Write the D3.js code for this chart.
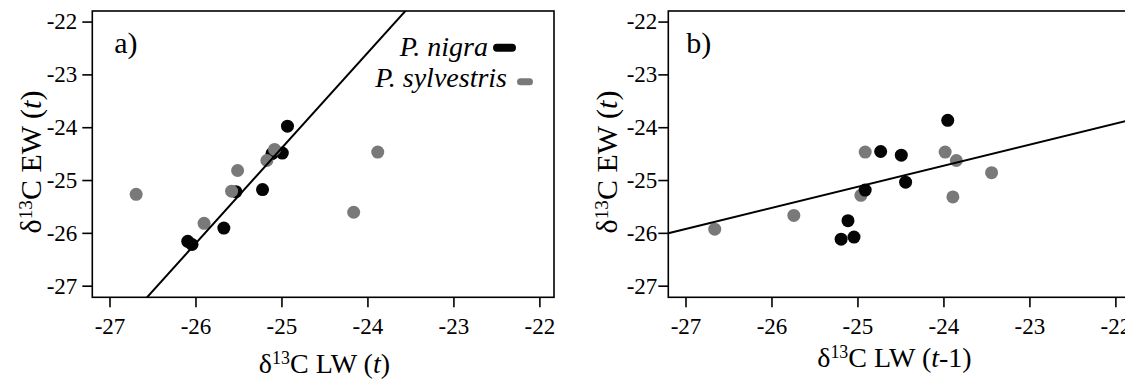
<!DOCTYPE html>
<html>
<head>
<meta charset="utf-8">
<script src="https://cdn.jsdelivr.net/npm/d3@7"></script>
<style>
  body { margin: 0; background: #fff; }
  svg text { font-family: "Liberation Serif", Tinos, "Times New Roman", "DejaVu Serif", serif; }
</style>
</head>
<body>
<svg id="chart" width="1125" height="380"></svg>
<script>
// δ13C pairs [LW, EW] for each species
// panel a: LW of the same year
const nigraA = [[-24.93, -23.98], [-24.99, -24.49], [-25.11, -24.50], [-25.53, -25.22],
                [-25.22, -25.18], [-25.67, -25.91], [-26.09, -26.16], [-26.04, -26.22]]
const sylvA = [[-25.08, -24.42], [-25.17, -24.63], [-25.51, -24.82], [-25.58, -25.21],
               [-26.69, -25.27], [-25.90, -25.82], [-23.88, -24.47], [-24.16, -25.61]]
// panel b: LW of the previous year
const nigraB = [[-23.95, -23.87], [-24.73, -24.46], [-24.49, -24.53], [-24.44, -25.04],
                [-24.91, -25.19], [-25.11, -25.77], [-25.19, -26.12], [-25.04, -26.08]]
const sylvB = [[-24.91, -24.47], [-23.98, -24.47], [-23.85, -24.63], [-23.44, -24.86],
               [-24.96, -25.29], [-23.89, -25.32], [-25.74, -25.67], [-26.66, -25.93]]

// fitted lines, [slope, intercept]
const fitA = [1.804, 20.70]
const fitB = [0.3996, -15.14]

const xTicks = [-27, -26, -25, -24, -23, -22]
const yTicks = [-27, -26, -25, -24, -23, -22]
const species = ["P. nigra", "P. sylvestris"]
const colors = ["#050505", "#797979"]

const svg = d3.select("#chart")
const plotTop = 11, plotBottom = 297.3
const xDomain = [-27.2, -21.83]
const yDomain = [-27.22, -21.80]

const panels = [
  {id: "a", label: "a)", left: 92.3, right: 554, series: [nigraA, sylvA], fit: fitA,
   lag: false, pad: 5, legend: true, sylvOnTop: true, titleDx: 0, titleY: 373},
  {id: "b", label: "b)", left: 668.3, right: 1130, series: [nigraB, sylvB], fit: fitB,
   lag: true, pad: 1, legend: false, sylvOnTop: false, titleDx: -6, titleY: 367}
]

const fmt = d => String(d)

// title with δ, superscript 13 and an italic t
function axisTitle(sel, word, lag, size) {
  sel.attr("font-size", size)
  sel.append("tspan").text("δ")
  sel.append("tspan").attr("font-size", size * 0.64).attr("dy", -size * 0.31).text("13")
  sel.append("tspan").attr("dy", size * 0.31).text("C " + word + " (")
  sel.append("tspan").attr("font-style", "italic").text("t")
  sel.append("tspan").text(lag ? "-1)" : ")")
}

panels.forEach(p => {
  const x = d3.scaleLinear().domain(xDomain).range([p.left, p.right])
  const y = d3.scaleLinear().domain(yDomain).range([plotBottom, plotTop])
  const g = svg.append("g")

  g.append("clipPath").attr("id", "clip-" + p.id)
    .append("rect")
    .attr("x", p.left).attr("y", plotTop)
    .attr("width", p.right - p.left).attr("height", plotBottom - plotTop)

  // points
  const order = p.sylvOnTop ? [0, 1] : [1, 0]
  order.forEach(i => {
    g.append("g")
      .selectAll("circle")
      .data(p.series[i])
      .join("circle")
      .attr("cx", d => x(d[0]))
      .attr("cy", d => y(d[1]))
      .attr("r", 6.5)
      .attr("fill", colors[i])
  })

  // regression line
  g.append("line")
    .attr("clip-path", "url(#clip-" + p.id + ")")
    .attr("x1", x(xDomain[0])).attr("y1", y(p.fit[0] * xDomain[0] + p.fit[1]))
    .attr("x2", x(xDomain[1])).attr("y2", y(p.fit[0] * xDomain[1] + p.fit[1]))
    .attr("stroke", "#000").attr("stroke-width", 2)

  // frame
  g.append("rect")
    .attr("x", p.left).attr("y", plotTop)
    .attr("width", p.right - p.left).attr("height", plotBottom - plotTop)
    .attr("fill", "none").attr("stroke", "#000").attr("stroke-width", 1.6)

  const yAxis = g.append("g")
    .attr("transform", "translate(" + p.left + ",0)")
    .call(d3.axisLeft(y).tickValues(yTicks).tickFormat(fmt)
      .tickSize(10).tickSizeOuter(0).tickPadding(p.pad))
  const xAxis = g.append("g")
    .attr("transform", "translate(0," + plotBottom + ")")
    .call(d3.axisBottom(x).tickValues(xTicks).tickFormat(fmt)
      .tickSize(10).tickSizeOuter(0).tickPadding(10))

  ;[yAxis, xAxis].forEach(a => {
    a.select(".domain").remove()
    a.attr("font-family", null).attr("font-size", 23)
    a.selectAll("line").attr("stroke", "#000").attr("stroke-width", 1.6)
    a.selectAll("text").attr("fill", "#000")
  })

  g.append("text")
    .attr("x", x(-24.5) + p.titleDx).attr("y", p.titleY)
    .attr("text-anchor", "middle")
    .call(axisTitle, "LW", p.lag, 28)

  g.append("text")
    .attr("transform", "translate(" + (p.left - 51) + "," + 162 + ") rotate(-90)")
    .attr("text-anchor", "middle")
    .call(axisTitle, "EW", false, 30)

  g.append("text")
    .attr("x", p.left + (p.id === "a" ? 22 : 18)).attr("y", 53)
    .attr("font-size", 30)
    .text(p.label)

  if (p.legend) {
    const rows = [{end: 488, base: 56, cy: 47.7, x1: 497, x2: 512, w: 8},
                  {end: 507, base: 87, cy: 81.7, x1: 520.5, x2: 529.5, w: 7}]
    const lg = g.append("g").selectAll("g").data(species).join("g")
    lg.append("text")
      .attr("x", (d, i) => rows[i].end).attr("y", (d, i) => rows[i].base)
      .attr("text-anchor", "end").attr("font-style", "italic").attr("font-size", 28)
      .text(d => d)
    lg.append("line")
      .attr("x1", (d, i) => rows[i].x1).attr("x2", (d, i) => rows[i].x2)
      .attr("y1", (d, i) => rows[i].cy).attr("y2", (d, i) => rows[i].cy)
      .attr("stroke", (d, i) => colors[i])
      .attr("stroke-width", (d, i) => rows[i].w)
      .attr("stroke-linecap", "round")
  }
})
</script>
</body>
</html>
